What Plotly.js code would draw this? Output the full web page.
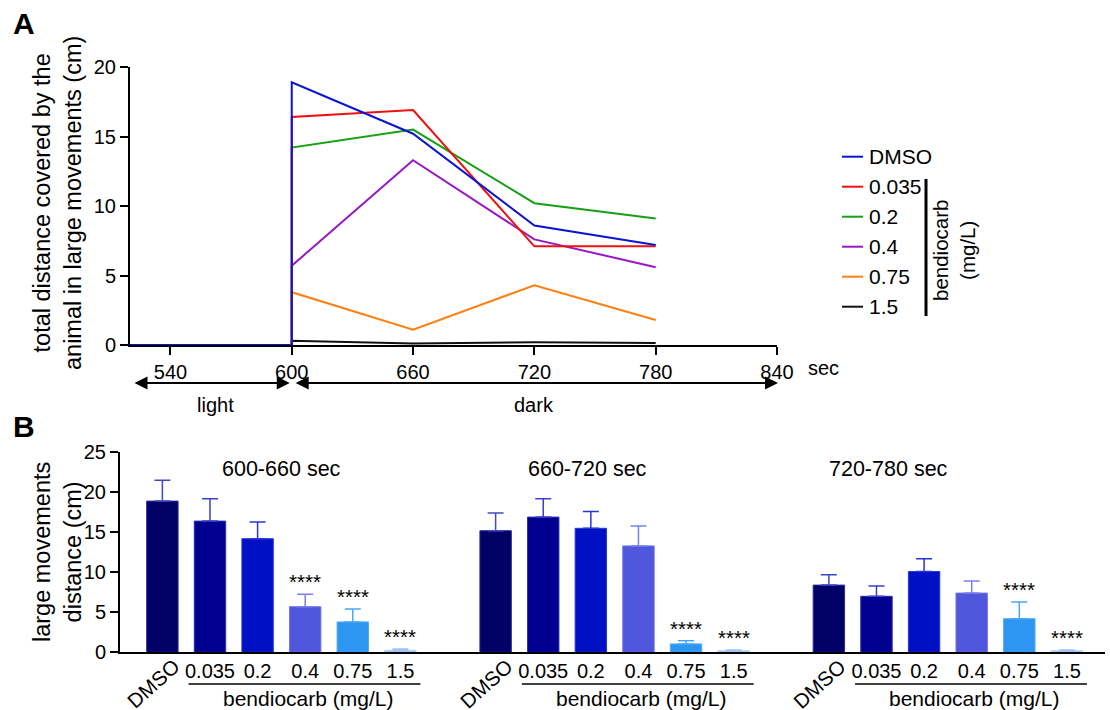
<!DOCTYPE html>
<html>
<head>
<meta charset="utf-8">
<script src="https://cdn.plot.ly/plotly-3.0.1.min.js"></script>
<style>html,body{margin:0;padding:0;background:#fff;}#chart{width:1110px;height:710px;}</style>
</head>
<body>
<div id="chart"></div>
<script>
// ---------- Panel A data ----------
const lightTimes = [520, 600];
const darkTimes = [600, 660, 720, 780];
const seriesNames = ['DMSO', '0.035', '0.2', '0.4', '0.75', '1.5'];
const dmsoLine = [18.9, 15.2, 8.6, 7.2];
const line0035 = [16.4, 16.9, 7.1, 7.1];
const line02 = [14.2, 15.5, 10.2, 9.1];
const line04 = [5.7, 13.3, 7.6, 5.6];
const line075 = [3.8, 1.1, 4.3, 1.8];
const line15 = [0.3, 0.1, 0.2, 0.15];
const lightValues = [0, 0];
const xTickValsA = [540, 600, 660, 720, 780, 840];
const yTickValsA = [0, 5, 10, 15, 20];

// ---------- Panel B data ----------
const windows = ['600-660 sec', '660-720 sec', '720-780 sec'];
const doseLabels = ['DMSO', '0.035', '0.2', '0.4', '0.75', '1.5'];
const mean600 = [18.9, 16.4, 14.2, 5.7, 3.8, 0.25];
const err600 = [2.6, 2.8, 2.1, 1.55, 1.6, 0.15];
const mean660 = [15.2, 16.9, 15.5, 13.3, 1.05, 0.2];
const err660 = [2.2, 2.3, 2.1, 2.5, 0.4, 0.1];
const mean720 = [8.4, 7.0, 10.1, 7.4, 4.2, 0.2];
const err720 = [1.3, 1.3, 1.6, 1.5, 2.1, 0.1];
const sig600 = ['', '', '', '****', '****', '****'];
const sig660 = ['', '', '', '', '****', '****'];
const sig720 = ['', '', '', '', '****', '****'];
const yTickValsB = [0, 5, 10, 15, 20, 25];

// ---------- styles ----------
const FONT = 'Arial, "Liberation Sans", sans-serif';
const lineColors = ['#0a14d2', '#f01010', '#15a015', '#9a18c4', '#ff7f10', '#111111'];
const barColors = ['#000066', '#000090', '#0010c4', '#5157dc', '#2d96f2', '#9ec4f5'];
const barEdge = ['#2a2f9a', '#2a30b0', '#2a3ad8', '#7078e6', '#55aaf6', '#b6d4f8'];
const errColors = ['#3f48c8', '#3a40cc', '#2636d2', '#7a80ea', '#4aa6f5', '#9ec4f5'];

const W = 1110, H = 710;
const px = v => v / W;
const py = v => 1 - v / H;

const lineSeries = [dmsoLine, line0035, line02, line04, line075, line15];
const traces = [];
// draw DMSO last so it is on top
for (let i = lineSeries.length - 1; i >= 0; i--) {
  traces.push({
    type: 'scatter', mode: 'lines', name: seriesNames[i],
    x: lightTimes.concat(darkTimes),
    y: lightValues.concat(lineSeries[i]),
    xaxis: 'x', yaxis: 'y',
    line: {color: lineColors[i], width: 2},
    cliponaxis: false, hoverinfo: 'x+y+name'
  });
}

const means = [mean600, mean660, mean720];
const errs = [err600, err660, err720];
const sigs = [sig600, sig660, sig720];
const slot = (g, d) => g * (doseLabels.length + 1) + d;

doseLabels.forEach((lab, d) => {
  traces.push({
    type: 'bar', name: lab,
    x: windows.map((w, g) => slot(g, d)),
    y: means.map(m => m[d]),
    width: 0.66,
    xaxis: 'x2', yaxis: 'y2',
    marker: {color: barColors[d], line: {color: barEdge[d], width: 1}},
    error_y: {type: 'data', array: errs.map(e => e[d]), arrayminus: windows.map(() => 0),
      symmetric: false, color: errColors[d], thickness: 1.5, width: 8},
    hoverinfo: 'y+name'
  });
});

const annotations = [];
const shapes = [];
const txt = (text, x, y, opts) => Object.assign({
  text, x, y, xref: 'paper', yref: 'paper', showarrow: false,
  xanchor: 'center', yanchor: 'middle', font: {family: FONT, size: 20, color: '#000'}
}, opts || {});
const f = s => ({family: FONT, size: s, color: '#000'});

annotations.push(txt('<b>A</b>', px(24), py(24), {font: f(30)}));
annotations.push(txt('<b>B</b>', px(24), py(426), {font: f(30)}));
annotations.push(txt('total distance covered by the<br>animal in large movements (cm)', px(57), py(203), {textangle: -90, font: f(23.5)}));
annotations.push(txt('large movements<br>distance (cm)', px(57), py(552), {textangle: -90, font: f(23.5)}));
annotations.push(txt('sec', px(806), py(368), {xanchor: 'left'}));
annotations.push(txt('light', 562.5, py(405), {xref: 'x'}));
annotations.push(txt('dark', 720, py(405), {xref: 'x'}));

// arrows (light / dark periods)
const arrowBase = {text: '', xref: 'x', yref: 'paper', axref: 'x', ayref: 'pixel', ay: 0,
  showarrow: true, arrowside: 'end+start', arrowhead: 2, arrowsize: 1.3, arrowwidth: 2, arrowcolor: '#000'};
annotations.push(Object.assign({}, arrowBase, {x: 599, ax: 521.5, y: py(383)}));
annotations.push(Object.assign({}, arrowBase, {x: 840.5, ax: 601.2, y: py(383)}));

// manual legend
seriesNames.forEach((n, i) => {
  const yy = 156.7 + i * 30;
  shapes.push({type: 'line', xref: 'paper', yref: 'paper', x0: px(842), x1: px(863), y0: py(yy), y1: py(yy),
    line: {color: lineColors[i], width: 2}});
  annotations.push(txt(n, px(867), py(yy), {xanchor: 'left', font: f(21)}));
});
shapes.push({type: 'line', xref: 'paper', yref: 'paper', x0: px(926), x1: px(926), y0: py(179), y1: py(316),
  line: {color: '#000', width: 3}});
annotations.push(txt('bendiocarb<br>(mg/L)', px(954), py(251), {textangle: -90, font: f(20.5)}));

// Panel B labels
const titleX = [281, 587.5, 888];
windows.forEach((w, g) => {
  annotations.push(txt(w, px(titleX[g]), py(469), {font: f(21.5)}));
  annotations.push(txt(doseLabels[0], slot(g, 0) - 0.2, py(683), {xref: 'x2', textangle: -42, font: f(20.5)}));
  annotations.push(txt('bendiocarb (mg/L)', slot(g, 3) + 0.05, py(698), {xref: 'x2', font: f(21)}));
  shapes.push({type: 'line', xref: 'x2', yref: 'paper', x0: slot(g, 1) - 0.45, x1: slot(g, 5) + 0.42,
    y0: py(684), y1: py(684), line: {color: '#000', width: 1.5}});
  doseLabels.forEach((lab, d) => {
    if (sigs[g][d]) {
      annotations.push({text: sigs[g][d], x: slot(g, d), y: means[g][d] + errs[g][d], xref: 'x2', yref: 'y2',
        showarrow: false, xanchor: 'center', yanchor: 'bottom', yshift: -1, font: f(20.5)});
    }
  });
});

const tickValsB = [], tickTextB = [];
windows.forEach((w, g) => doseLabels.forEach((lab, d) => { if (d > 0) { tickValsB.push(slot(g, d)); tickTextB.push(lab); } }));

const axisCommon = {showline: true, linewidth: 2, linecolor: '#000', ticks: 'outside', ticklen: 8, tickwidth: 2,
  tickcolor: '#000', showgrid: false, zeroline: false, tickfont: f(20),
  automargin: false, fixedrange: true};

const layout = {
  width: W, height: H,
  margin: {l: 0, r: 0, t: 0, b: 0},
  paper_bgcolor: '#fff', plot_bgcolor: 'rgba(0,0,0,0)',
  showlegend: false,
  barmode: 'overlay',
  font: {family: FONT, color: '#000'},
  xaxis: Object.assign({}, axisCommon, {domain: [px(130), px(777)], range: [520, 840], anchor: 'y',
    tickmode: 'array', tickvals: xTickValsA, layer: 'below traces'}),
  yaxis: Object.assign({}, axisCommon, {domain: [py(345), py(67)], range: [0, 20], anchor: 'x',
    tickmode: 'array', tickvals: yTickValsA, layer: 'below traces'}),
  xaxis2: Object.assign({}, axisCommon, {domain: [px(120), px(1105)], range: [-0.89, 19.8], anchor: 'y2',
    tickmode: 'array', tickvals: tickValsB, ticktext: tickTextB, ticks: '', ticklen: 0}),
  yaxis2: Object.assign({}, axisCommon, {domain: [py(652.3), py(452.3)], range: [0, 25], anchor: 'x2',
    tickmode: 'array', tickvals: yTickValsB}),
  annotations, shapes
};

Plotly.newPlot('chart', traces, layout, {staticPlot: true, displayModeBar: false});
</script>
</body>
</html>
